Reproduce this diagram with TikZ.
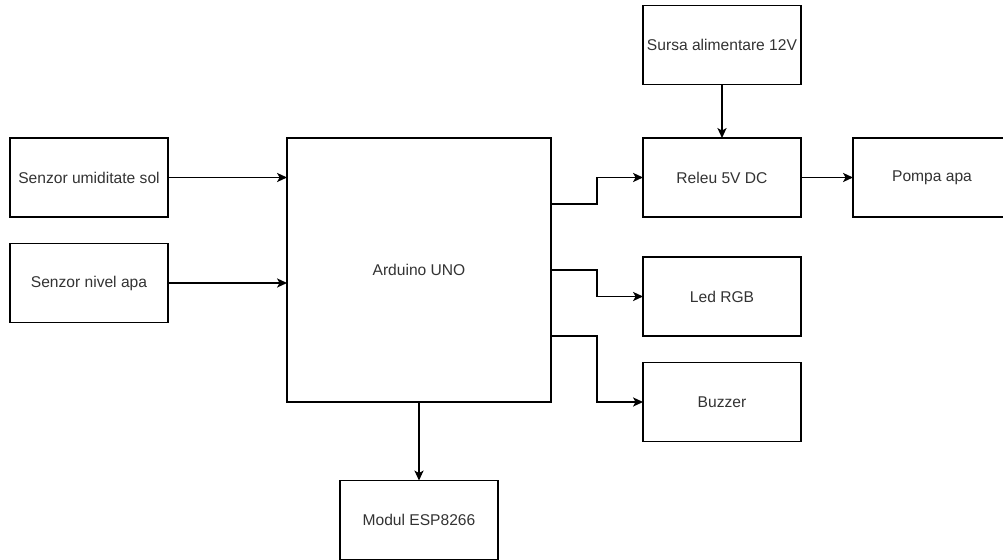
\documentclass[tikz,border=0pt]{standalone}
\usepackage{fontspec}
\setmainfont{Liberation Sans}
\usetikzlibrary{arrows.meta,positioning}
\tikzset{blok/.style={draw, line width=0.6pt, inner sep=0pt, outer sep=0pt, minimum width=79pt, minimum height=39.5pt, font=\fontsize{7.8}{9.4}\selectfont, text=black!80}}
\tikzset{arr/.style={draw, line width=0.6pt, -{Stealth[length=5pt,width=4.6pt,inset=1.3pt]}}}

\begin{document}
\begin{tikzpicture}[x=0.5pt,y=-0.5pt]
				\useasboundingbox (0,0) rectangle (1003,560);
				\fill[white] (0,0) rectangle (1003,560);

				\node[blok] (sol) at (89,177.5) {Senzor umiditate sol};
				\node[blok] (nivel) at (89,283) {Senzor nivel apa};
				\node[blok, minimum width=132pt, minimum height=132pt] (uno) at (419,270) {Arduino UNO};
				\node[blok] (esp) at (419,520) {Modul ESP8266};

				\node[blok] (sursa) at (722,45) {Sursa alimentare 12V};
				\node[blok] (releu) at (722,177.5) {Releu 5V DC};
				\node[blok] (pompa) at (932,177.5) {Pompa apa};
				\node[blok] (led) at (722,296.5) {Led RGB};
				\node[blok] (buzzer) at (722,402) {Buzzer};

				\draw[arr] (sol.east) -- (uno.west |- sol.east);
				\draw[arr] (nivel.east) -- (uno.west |- nivel.east);

				\draw[arr] ([yshift=33pt]uno.east) -- ++(23pt,0) |- (releu.west);
				\draw[arr] (uno.east) -- ++(23pt,0) |- (led.west);
				\draw[arr] ([yshift=-33pt]uno.east) -- ++(23pt,0) |- (buzzer.west);

				\draw[arr] (uno.south) -- (esp.north);
				\draw[arr] (sursa.south) -- (releu.north);
				\draw[arr] (releu.east) -- (pompa.west);
			\end{tikzpicture}
\end{document}
